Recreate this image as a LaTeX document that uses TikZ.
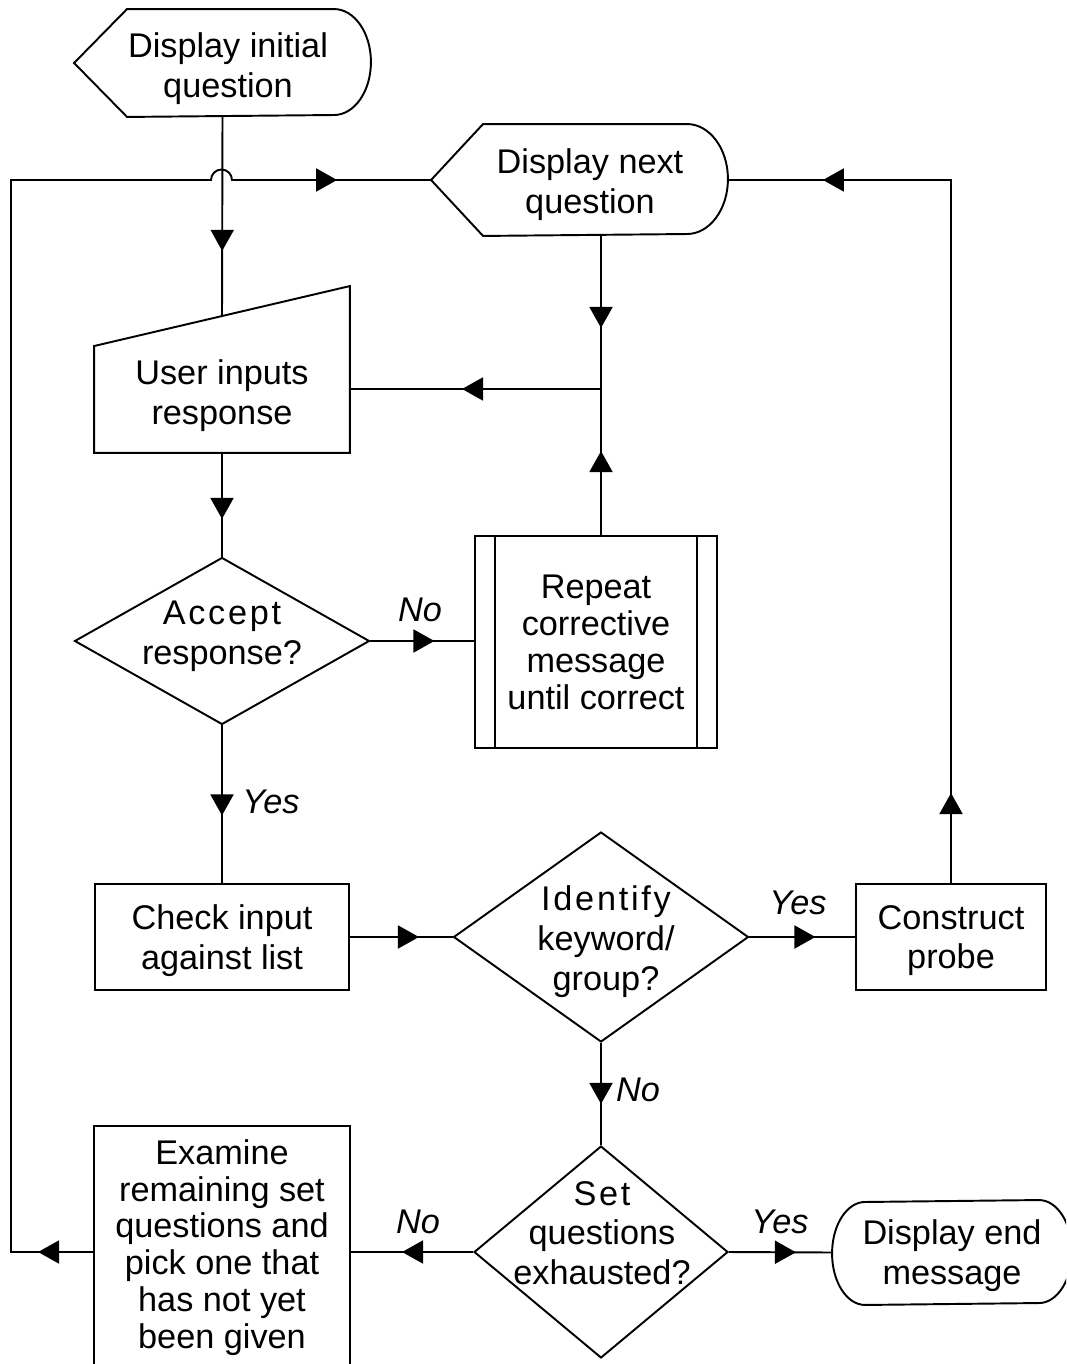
\documentclass[tikz,border=0pt]{standalone}
\usepackage{fontspec}
\setmainfont{Liberation Sans}
\usetikzlibrary{arrows.meta,shapes.geometric,decorations.markings}

\begin{document}
\begin{tikzpicture}[x=0.02cm, y=-0.02cm, line width=1.1pt,
        every node/.style={font=\fontsize{19.5}{22.7}\selectfont, inner sep=0pt, align=center, text depth=0pt},
        box/.style={draw, minimum width=5.08cm, minimum height=2.12cm},
        dec/.style={draw, diamond},
        tight/.style={font=\fontsize{19.5}{21}\selectfont},
        yesno/.style={font=\fontsize{19.5}{22.7}\selectfont\itshape},
        tipat/.style={postaction={decorate, decoration={markings,
            mark=at position #1 with {\arrow{Triangle[length=0.42cm, width=0.46cm]}}}}}]
    \clip (0,0) rectangle (1066,1364);

    % shapes
    \node[minimum width=5.9cm, minimum height=2.12cm] (init) at (222.5,63) {};
    \node (inittxt) at (228,65) {Display initial\\question};
    \node[minimum width=5.9cm, minimum height=2.2cm] (nxt) at (579.5,180) {};
    \node (nxttxt) at (590,181) {Display next\\question};
    \node[minimum width=5.08cm, minimum height=2.4cm] (usr) at (222,392) {User inputs\\response};
    \node[dec, minimum width=5.9cm, minimum height=3.34cm] (accept) at (222,641) {};
    \node (accepttxt) at (222,633) {{\addfontfeature{LetterSpace=8}Accept}\\response?};
    \node[box, tight, minimum width=4.84cm, minimum height=4.24cm] (rep) at (596,642) {Repeat\\corrective\\message\\until correct};
    \node[box] (check) at (222,937) {Check input\\against list};
    \node[dec, minimum width=5.9cm, minimum height=4.2cm] (ident) at (601,937) {};
    \node (identtxt) at (606,938) {{\addfontfeature{LetterSpace=8}Identify}\\keyword/\\group?};
    \node[box, minimum width=3.8cm] (probe) at (951,937) {Construct\\probe};
    \node[dec, minimum width=5.08cm, minimum height=4.24cm] (set) at (601,1252) {};
    \node (settxt) at (602,1233) {{\addfontfeature{LetterSpace=8}Set}\\questions\\exhausted?};
    \node[tight, minimum width=5.08cm, minimum height=4.68cm] (exam) at (222,1244) {Examine\\remaining set\\questions and\\pick one that\\has not yet\\been given};
    \node[minimum width=4.76cm, minimum height=2.06cm] (endmsg) at (952,1252.5) {Display end\\message};

    % outlines
    \draw (init.west) -- ([xshift=1.06cm]init.north west) -- ([xshift=-0.74cm]init.north east)
        arc[start angle=90, end angle=-90, x radius=0.74cm, y radius=1.06cm]
        -- ([xshift=1.06cm]init.south west) -- cycle;
    \draw (nxt.west) -- ([xshift=1.04cm]nxt.north west) -- ([xshift=-0.82cm]nxt.north east)
        arc[start angle=90, end angle=-90, x radius=0.82cm, y radius=1.1cm]
        -- ([xshift=1.04cm]nxt.south west) -- cycle;
    \draw (usr.south west) -- ([yshift=-0.3cm]usr.north west) -- ([yshift=0.9cm]usr.north east)
        -- (usr.south east) -- cycle;
    \draw ([xshift=0.42cm]rep.north west) -- ([xshift=0.42cm]rep.south west)
        ([xshift=-0.42cm]rep.north east) -- ([xshift=-0.42cm]rep.south east);
    \draw ([yshift=-1cm]exam.south west) |- (exam.north east) -- ([yshift=-1cm]exam.south east);
    \draw ([xshift=0.66cm]endmsg.south west)
        arc[start angle=270, end angle=90, x radius=0.66cm, y radius=1.03cm]
        -- ([xshift=-0.66cm]endmsg.north east)
        arc[start angle=90, end angle=-90, x radius=0.66cm, y radius=1.03cm] -- cycle;

    % connectors
    \coordinate (jn) at (601,389);
    \draw[tipat=2.68cm] (init.south) -- ([yshift=0.3cm]usr.north);
    \draw[tipat=1.84cm] (nxt.south -| jn) -- (jn);
    \draw[tipat=1.68cm] (rep.north -| jn) -- (jn);
    \draw[tipat=2.78cm] (jn) -- (jn -| usr.east);
    \draw[tipat=1.32cm] (usr.south) -- (accept.north);
    \draw[tipat=1.28cm] (accept.east) -- (accept.east -| rep.west);
    \draw[tipat=1.8cm] (accept.south) -- (check.north);
    \draw[tipat=1.38cm] (check.east) -- (ident.west);
    \draw[tipat=1.32cm] (ident.east) -- (probe.west);
    \draw[tipat=1.22cm] (ident.south) -- (set.north);
    \draw[tipat=1.34cm] (set.east) -- (endmsg.west);
    \draw[tipat=1.42cm] (set.west) -- (set.west -| exam.east);
    \draw[tipat=1.8cm, tipat=-1.9cm] (probe.north) |- (nxt.east);
    \draw[tipat=1.12cm, tipat=-1.88cm] (set.west -| exam.west) -- (11,1252) |- (211,180)
        arc[start angle=180, end angle=0, radius=0.21cm] -- (nxt.west);

    % branch labels
    \node[yesno] (no1) at (420,610) {No};
    \node[yesno] (yes1) at (271,802) {Yes};
    \node[yesno] (yes2) at (798,903) {Yes};
    \node[yesno] (no2) at (638,1090) {No};
    \node[yesno] (yes3) at (780,1222) {Yes};
    \node[yesno] (no3) at (418,1222) {No};
\end{tikzpicture}
\end{document}
